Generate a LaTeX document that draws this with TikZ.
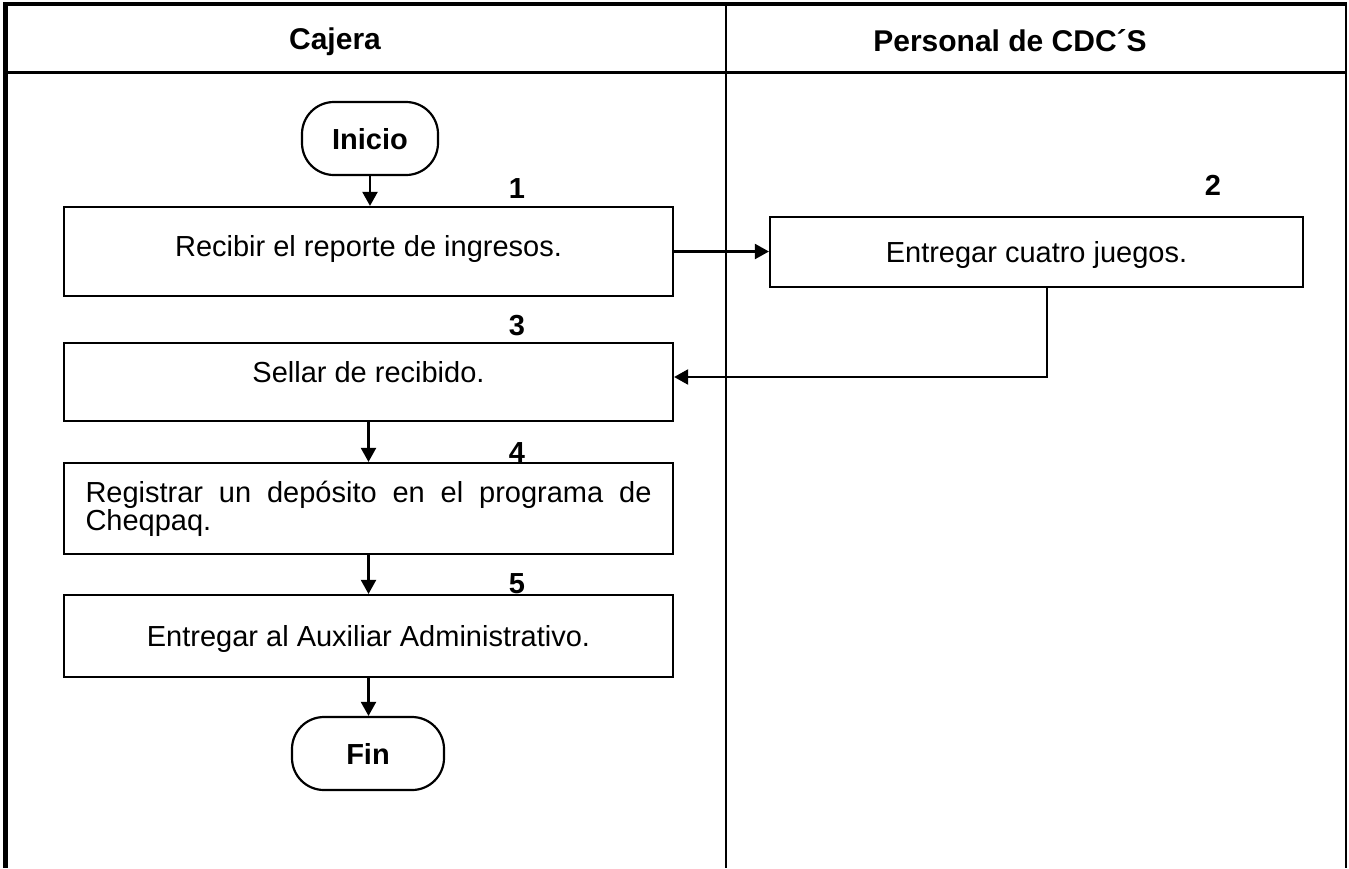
\documentclass[tikz,border=0pt]{standalone}
\usepackage{fontspec}
\setmainfont{Liberation Sans}
\usetikzlibrary{arrows.meta}

\newcommand{\cuerpo}{\fontsize{14.5}{14}\selectfont}
\tikzset{
  paso/.style={draw,line width=1.1pt,inner sep=0pt,minimum width=304.5pt},
  linea/.style={text height=10.5pt,text depth=#1},
  linea/.default=0pt,
  terminal/.style={draw,line width=1.1pt,rounded corners=16pt,inner sep=0pt,
    minimum height=36.5pt,text height=10.5pt,text depth=0pt,font=\cuerpo\bfseries},
  num/.style={font=\cuerpo\bfseries,text height=10.5pt,text depth=0pt},
}

\begin{document}
\begin{tikzpicture}[x=0.5pt,y=-0.5pt,font=\cuerpo,>={Triangle[length=7pt,width=7.5pt]}]
            \useasboundingbox (0,0) rectangle (1349,868);
            % marco y carriles
            \draw[line width=2pt] (3,4) -- (1347,4);
            \draw[line width=2.5pt] (5,4) -- (5,868);
            \draw[line width=1pt] (1346,4) -- (1346,868);
            \draw[line width=1.5pt] (3,72) -- (1347,72);
            \draw[line width=1pt] (726,4) -- (726,868);
            \node[font=\fontsize{15}{16}\selectfont\bfseries] (cajera) at (335,42) {Cajera};
            \node[font=\fontsize{15}{16}\selectfont\bfseries] (personal) at (1010,41) {Personal de CDC´S};
            % pasos
            \node[terminal,minimum width=68pt] (inicio) at (370,138.5) {Inicio};
            \node[paso,linea=6pt,minimum height=44.5pt] (paso1) at (368.5,251.5) {Recibir el reporte de ingresos.};
            \node[paso,linea,minimum width=266.5pt,minimum height=35pt] (paso2) at (1036.5,252) {Entregar cuatro juegos.};
            \node[paso,linea=10pt,minimum height=39pt] (paso3) at (368.5,382) {Sellar de recibido.};
            \node[paso,minimum height=45.5pt,text width=283pt,align=justify] (paso4) at (368.5,508.5)
                 {Registrar un depósito en el programa de Cheqpaq.};
            \node[paso,linea,minimum height=41pt] (paso5) at (368.5,636) {Entregar al Auxiliar Administrativo.};
            \node[terminal,minimum width=76pt] (fin) at (368,753.5) {Fin};
            % numeros
            \node[num] (n1) at (517,188) {1};
            \node[num] (n2) at (1213,185) {2};
            \node[num] (n3) at (517,325) {3};
            \node[num] (n4) at (517,452) {4};
            \node[num] (n5) at (517,583) {5};
            % flechas
            \draw[->,line width=1.1pt] (inicio.south) -- (inicio.south |- paso1.north);
            \draw[->,line width=1.1pt] (paso1.east) -- (paso1.east -| paso2.west);
            \draw[->,line width=1.1pt] ([xshift=5.25pt]paso2.south) |- ([yshift=2.5pt]paso3.east);
            \draw[->,line width=1.1pt] (paso3.south) -- (paso4.north);
            \draw[->,line width=1.1pt] (paso4.south) -- (paso5.north);
            \draw[->,line width=1.1pt] (paso5.south) -- (paso5.south |- fin.north);
\end{tikzpicture}
\end{document}
